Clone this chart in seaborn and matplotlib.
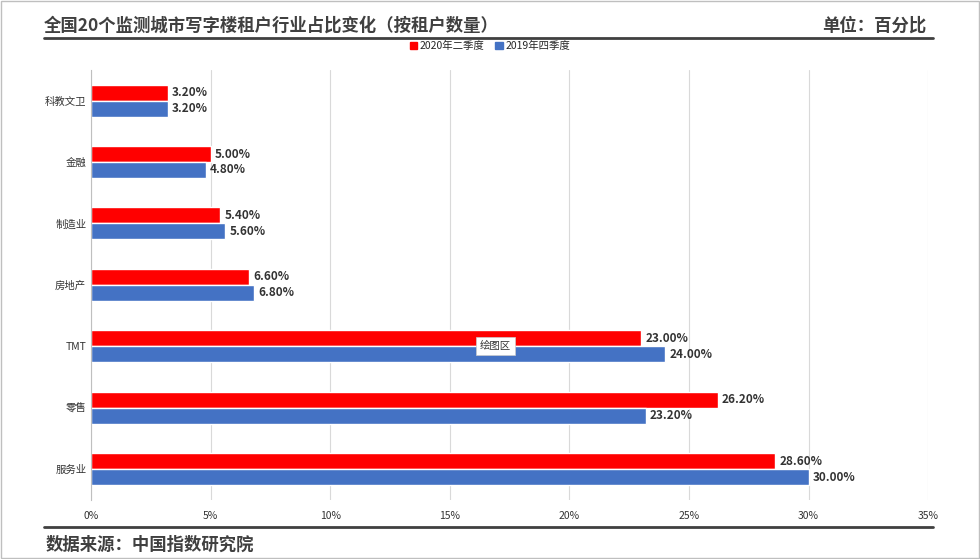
import matplotlib.pyplot as plt
import matplotlib.patches as mpatches
import seaborn as sns
import pandas as pd

sns.set_style("white")
plt.rcParams['font.family'] = ['Noto Sans CJK SC', 'DejaVu Sans']

categories = ['科教文卫', '金融', '制造业', '房地产', 'TMT', '零售', '服务业']
q2_2020 = [3.2, 5.0, 5.4, 6.6, 23.0, 26.2, 28.6]
q4_2019 = [3.2, 4.8, 5.6, 6.8, 24.0, 23.2, 30.0]
series = ['2020年二季度', '2019年四季度']
xticks = [0, 5, 10, 15, 20, 25, 30, 35]

df = pd.DataFrame({
    'cat': categories * 2,
    'val': q2_2020 + q4_2019,
    'series': [series[0]] * 7 + [series[1]] * 7,
})

fig = plt.figure(figsize=(9.8, 5.59), dpi=100)
ax = fig.add_axes([0.093, 0.106, 0.854, 0.769])
sns.barplot(data=df, y='cat', x='val', hue='series', order=categories,
            hue_order=series, palette=['#FF0000', '#4472C4'], width=0.52,
            saturation=1, orient='h', ax=ax, legend=False)

for cont in ax.containers:
    ax.bar_label(cont, labels=[f'{v:.2f}%' for v in cont.datavalues],
                 padding=3, fontsize=8.5, fontweight='bold', color='#333333')

ax.set_xlim(0, 35)
ax.set_xticks(xticks)
ax.set_xticklabels([f'{t}%' for t in xticks], fontsize=7.5, color='#333333')
ax.tick_params(axis='y', labelsize=7.5, colors='#333333', length=0)
ax.tick_params(axis='x', length=0, pad=8)
ax.set_xlabel('')
ax.set_ylabel('')
ax.grid(axis='x', color='#D9D9D9', linewidth=0.8)
ax.set_axisbelow(True)
for s in ['top', 'right', 'bottom']:
    ax.spines[s].set_visible(False)
ax.spines['left'].set_color('#BFBFBF')

handles = [mpatches.Patch(color=c, label=l) for c, l in zip(['#FF0000', '#4472C4'], series)]
fig.legend(handles=handles, loc='center', bbox_to_anchor=(0.5, 0.917), ncol=2,
           frameon=False, fontsize=7.5, handlelength=0.7, handleheight=0.7,
           columnspacing=1.0, handletextpad=0.3)

# tooltip box
ax.text(16.9, 4.0, '绘图区', fontsize=7.5, color='#333333', va='center', ha='center',
        bbox=dict(boxstyle='square,pad=0.4', fc='white', ec='#CCCCCC', lw=0.5))

fig.text(0.045, 0.955, '全国20个监测城市写字楼租户行业占比变化（按租户数量）',
         fontsize=12.5, fontweight='bold', color='#404040', va='center')
fig.text(0.945, 0.955, '单位：百分比', fontsize=12.5, fontweight='bold',
         color='#404040', va='center', ha='right')
fig.add_artist(plt.Line2D([0.045, 0.952], [0.932, 0.932], color='#404040', lw=2))
fig.add_artist(plt.Line2D([0.045, 0.952], [0.057, 0.057], color='#404040', lw=2))
fig.text(0.047, 0.025, '数据来源：中国指数研究院', fontsize=12.5, fontweight='bold',
         color='#404040', va='center')
fig.add_artist(mpatches.Rectangle((0.001, 0.001), 0.998, 0.998, fill=False,
                                  ec='#BFBFBF', lw=1, transform=fig.transFigure))

fig.savefig('out.png', dpi=100)
